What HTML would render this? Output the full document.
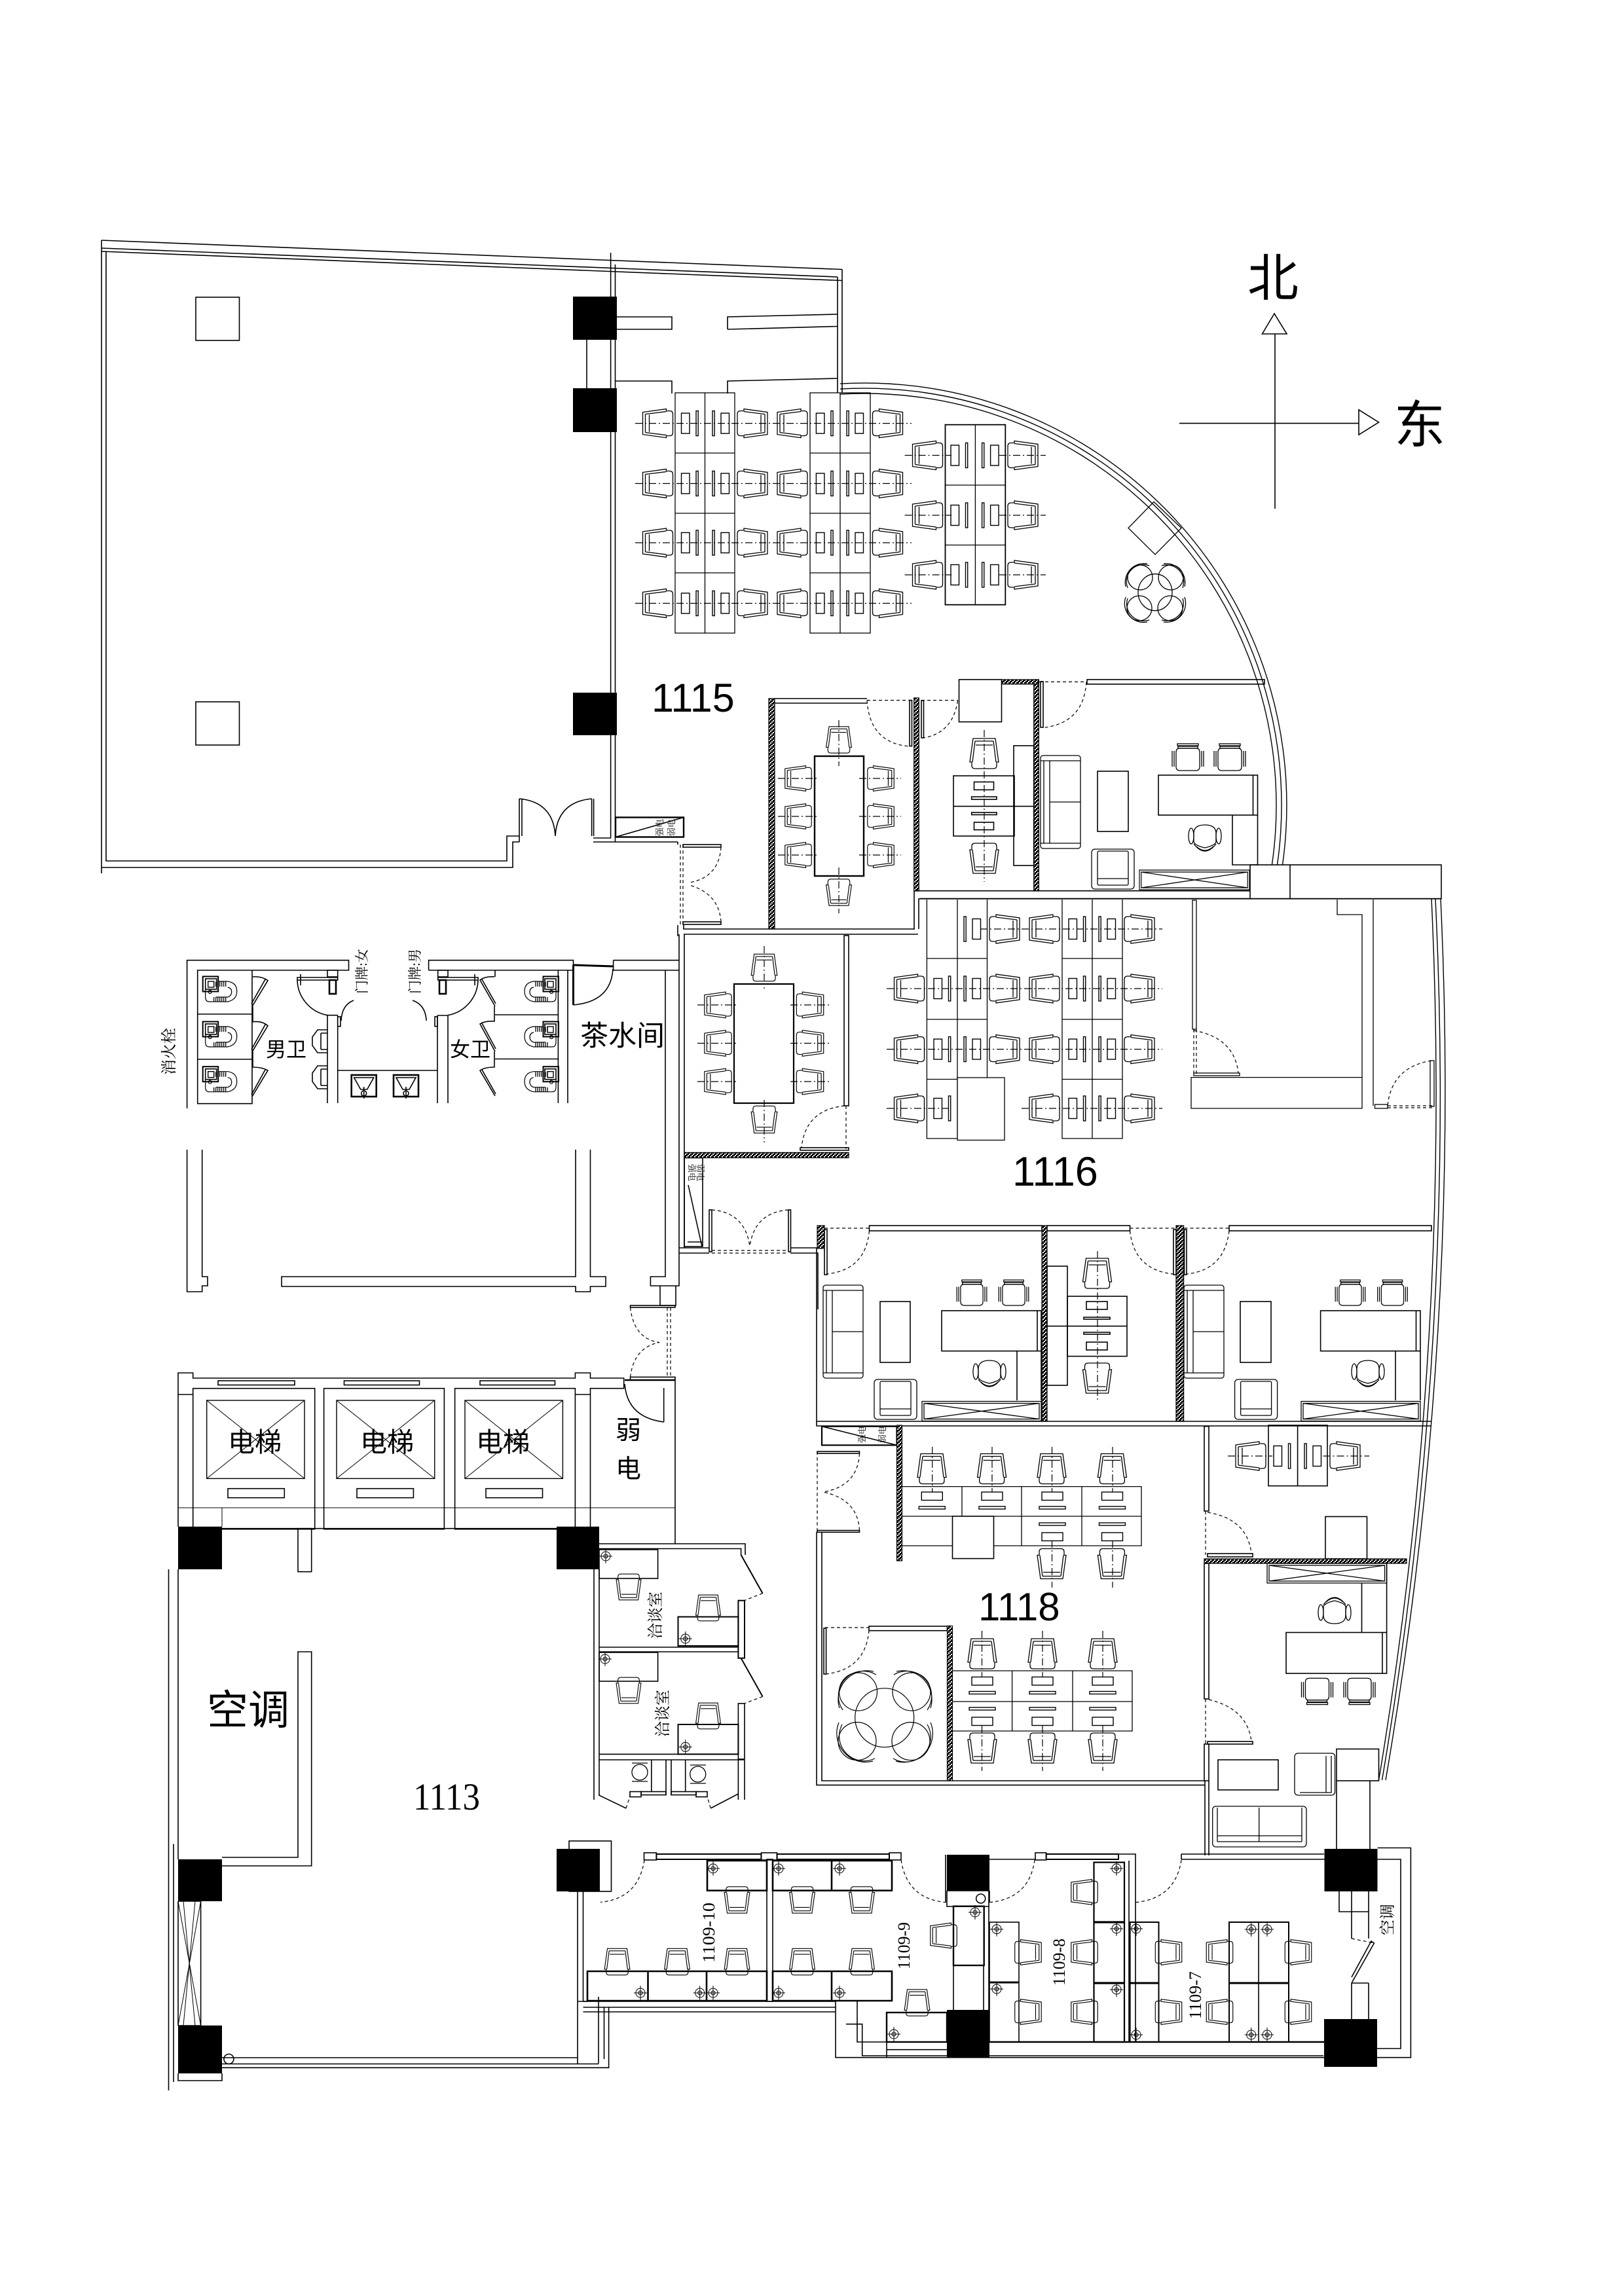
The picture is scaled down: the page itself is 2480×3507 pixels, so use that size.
<!DOCTYPE html>
<html lang="zh"><head><meta charset="utf-8"><title>Floor plan</title>
<style>
html,body{margin:0;padding:0;background:#fff}
svg{display:block}
.l{fill:none;stroke:#000;stroke-width:1.6}
.t{fill:none;stroke:#000;stroke-width:1}
.b{fill:none;stroke:#000;stroke-width:3}
.d{fill:none;stroke:#000;stroke-width:1.2;stroke-dasharray:5 4}
.dd{fill:none;stroke:#000;stroke-width:1.2;stroke-dasharray:11 4 2 4}
.f{fill:#000;stroke:none}
.h{fill:url(#hp);stroke:#000;stroke-width:1.2}
text{fill:#000;stroke:none;font-family:"Liberation Sans","Noto Sans CJK SC",sans-serif}
.s{font-family:"Liberation Serif","Noto Serif CJK SC",serif}
</style></head><body>
<svg xmlns="http://www.w3.org/2000/svg" width="2480" height="3507" viewBox="0 0 2480 3507">
<defs>
<pattern id="hp" width="6" height="6" patternUnits="userSpaceOnUse"><rect width="6" height="6" fill="#000"/><path d="M0 0h2v2H0zM4 2h2v2H4zM2 4h2v2H2z" fill="#fff"/></pattern>
<g id="c" class="l" style="stroke-width:1.3"><path d="M-23-17L13-22V-19H18Q23-19 23-14V14Q23 19 18 19H13V22L-23 17ZM-19-14V14M-13-13V13M-19-14L13-18M-19 14L13 18"/></g>
<g id="m1" class="l" style="stroke-width:1.4"><rect x="0" y="-15.500" width="12.500" height="31"/><rect x="22.500" y="-19" width="3.200" height="38"/></g>
<g id="m2" class="l" style="stroke-width:1.4"><rect x="0" y="-19" width="3.200" height="38"/><rect x="13" y="-15.500" width="12.500" height="31"/></g>
<g id="u1" class="l" style="stroke-width:1.4"><rect x="-16" y="0" width="32" height="12.500"/><rect x="-20" y="22" width="40" height="4"/></g>
<g id="u2" class="l" style="stroke-width:1.4"><rect x="-20" y="0" width="40" height="4"/><rect x="-16" y="15" width="32" height="12.500"/></g>
<g id="x" class="t"><circle r="7"/><circle r="3"/><path d="M-10 0H10M0-11V11"/></g>
<g id="sf" class="l" style="stroke-width:1.3"><rect x="0" y="0" width="61" height="142" rx="4"/><path d="M5 8V134M14 8H61M14 134H61M14 8V134M14 71H61M0 8H61M0 134H61"/></g>
<g id="ar" class="l" style="stroke-width:1.3"><rect x="0" y="0" width="65" height="61" rx="5"/><rect x="9" y="3" width="47" height="52" rx="2"/><path d="M9 45H56"/></g>
<g id="cb" class="l" style="stroke-width:1.3"><rect x="0" y="0" width="182" height="30"/><rect x="3" y="3" width="176" height="24"/><path d="M3 3L179 27M179 3L3 27"/></g>
<g id="ec" class="l" style="stroke-width:1.3"><rect x="-16" y="-21" width="32" height="3"/><rect x="-15" y="-17" width="30" height="3"/><path d="M-13-14H13Q18-14 18-8V14Q18 20 12 20H-12Q-18 20-18 14V-8Q-18-14-13-14ZM-24-10V14M24-10V14M-21-10V14M21-10V14"/></g>
<g id="dc" class="l" style="stroke-width:1.3"><path d="M-17-8Q-17-21 0-21Q17-21 17-8V4Q17 10 0 14Q-17 10-17 4Z"/><ellipse cx="-21" cy="-4" rx="4" ry="12"/><ellipse cx="21" cy="-4" rx="4" ry="12"/><path d="M-17 8Q0 30 17 8M-13 12Q0 24 13 12"/></g>
<g id="tl" class="l" style="stroke-width:1.2"><rect x="-12" y="-11.500" width="23.500" height="23" stroke-width="2"/><rect x="-8" y="-8" width="17" height="16" stroke-width="1.600"/><rect x="-4" y="-4" width="9" height="9" stroke-width="1.400"/><path d="M12-4H26Q40-2 40 11Q40 24 26 27H-2Q-8 27-8 20V6M26 5Q32 6 32 12Q32 18 26 20H8"/><path d="M5-3.500V4M8-3.500V4M11-3.500V4M14-3.500V4M17-3.500V4M20-3.500V4M23-3.500V4M5 20V27M8 20V27M11 20V27M14 20V27M17 20V27M20 20V27M23 20V27" stroke-width="1.300"/><circle cx="-1" cy="12" r="2.500"/></g>
<g id="ur" class="l" style="stroke-width:1.6"><rect x="0" y="0" width="38" height="33" stroke-width="2.600"/><path d="M4 4H34L24 22H14ZM19 18V36"/><circle cx="19" cy="28" r="4"/></g>
</defs>
<rect width="2480" height="3507" fill="#fff"/>

<!-- left block / north -->
<g class="l">
<path d="M155 367L1286 411.500M155 379L1279 423M155 384L1286 428.500"/>
<path d="M155 367V1334M162 384V1315H774V1277H793M155 1325H783V1286H793"/>
<path d="M793 1220V1286M797 1220V1277M903.600 1220V1277M906.600 1220V1277M906 1280H933M906 1286H1035"/>
<path d="M932.600 386V1280M939.500 404V1286M896 519V593"/>
<path d="M1279 423V600M1286 411.500V600"/>
<rect x="299" y="454" width="66.500" height="66"/><rect x="299" y="1072" width="66.500" height="66"/>
<path d="M940 484H1026V503H940M940 582H1026V601M1111 503V484L1279 480M1111 503L1279 498.500M1111 601V582L1279 578"/>
<path d="M793 1220Q845 1225 848 1277M903.600 1220Q851 1225 848 1277"/>
<rect x="940" y="1248.500" width="104" height="30" stroke-width="2.400"/><path d="M940 1278.500L1044 1248.500"/>
</g>
<g class="f"><rect x="875" y="453" width="67" height="66"/><rect x="875" y="593" width="67" height="67"/><rect x="875" y="1058" width="67" height="65"/></g>

<!-- north arc -->
<g class="t" style="stroke-width:1.4"><path d="M1283 586.100A645 645 0 0 1 1958.500 1321M1283 594.100A637 637 0 0 1 1950.500 1321M1283 602.100A629 629 0 0 1 1942.400 1321"/></g>

<!-- compass -->
<g class="l"><path d="M1947 510V777M1801 646.600H2075"/><path d="M1927.500 510H1965L1946 479ZM2075 626V664L2105.500 645Z"/></g>

<!-- 1115 desks -->
<g class="l" style="stroke-width:1.3">
<rect x="1031" y="600" width="91" height="367"/><path d="M1076.500 600V967M1031 692H1122M1031 784H1122M1031 875H1122"/>
<rect x="1237" y="600" width="92" height="367"/><path d="M1283 600V967M1237 692H1329M1237 784H1329M1237 875H1329"/>
<rect x="1443.500" y="648.700" width="91.800" height="275" stroke-width="1.800"/><path d="M1489.400 648.700V923.700M1443.500 741H1535.300M1443.500 832.500H1535.300"/>
</g>
<use href="#m1" x="1040.500" y="646.600"/><use href="#m1" x="1040.500" y="738.500"/><use href="#m1" x="1040.500" y="829"/><use href="#m1" x="1040.500" y="921.500"/>
<use href="#m2" x="1088" y="646.600"/><use href="#m2" x="1088" y="738.500"/><use href="#m2" x="1088" y="829"/><use href="#m2" x="1088" y="921.500"/>
<use href="#m1" x="1246.400" y="646.600"/><use href="#m1" x="1246.400" y="738.500"/><use href="#m1" x="1246.400" y="829"/><use href="#m1" x="1246.400" y="921.500"/>
<use href="#m2" x="1293" y="646.600"/><use href="#m2" x="1293" y="738.500"/><use href="#m2" x="1293" y="829"/><use href="#m2" x="1293" y="921.500"/>
<use href="#m1" x="1452" y="695.500"/><use href="#m1" x="1452" y="787"/><use href="#m1" x="1452" y="878"/>
<use href="#m2" x="1499.600" y="695.500"/><use href="#m2" x="1499.600" y="787"/><use href="#m2" x="1499.600" y="878"/>
<use href="#c" transform="translate(1004.500 646.600)"/><use href="#c" transform="translate(1004.500 738.500)"/><use href="#c" transform="translate(1004.500 829)"/><use href="#c" transform="translate(1004.500 921.500)"/>
<use href="#c" transform="translate(1149 646.600) rotate(180)"/><use href="#c" transform="translate(1149 738.500) rotate(180)"/><use href="#c" transform="translate(1149 829) rotate(180)"/><use href="#c" transform="translate(1149 921.500) rotate(180)"/>
<use href="#c" transform="translate(1210 646.600)"/><use href="#c" transform="translate(1210 738.500)"/><use href="#c" transform="translate(1210 829)"/><use href="#c" transform="translate(1210 921.500)"/>
<use href="#c" transform="translate(1355.500 646.600) rotate(180)"/><use href="#c" transform="translate(1355.500 738.500) rotate(180)"/><use href="#c" transform="translate(1355.500 829) rotate(180)"/><use href="#c" transform="translate(1355.500 921.500) rotate(180)"/>
<use href="#c" transform="translate(1416.500 695.500)"/><use href="#c" transform="translate(1416.500 787)"/><use href="#c" transform="translate(1416.500 878)"/>
<use href="#c" transform="translate(1562 695.500) rotate(180)"/><use href="#c" transform="translate(1562 787) rotate(180)"/><use href="#c" transform="translate(1562 878) rotate(180)"/>
<path class="dd" d="M970 646.600H1392M970 738.500H1392M970 829H1392M970 921.500H1392M1381.600 695.500H1453M1526 695.500H1597M1381.600 787H1453M1526 787H1597M1381.600 878H1453M1526 878H1597"/>

<!-- lounge -->
<g class="t" style="stroke-width:1.3"><path d="M1762 766.500L1804 806.500L1764 847L1723 806.500Z"/>
<ellipse cx="1764" cy="904.700" rx="26" ry="28"/>
<circle cx="1741" cy="882" r="19"/><circle cx="1788" cy="882" r="19"/><circle cx="1740" cy="929" r="19"/><circle cx="1787" cy="929" r="19"/>
<path d="M1755 864A26 26 0 0 0 1722 898M1752 861A29 29 0 0 0 1719 896M1774 864A26 26 0 0 1 1806 898M1777 861A29 29 0 0 1 1809 896M1722 914A26 26 0 0 0 1755 947M1719 912A29 29 0 0 0 1752 950M1806 914A26 26 0 0 1 1774 947M1809 912A29 29 0 0 1 1777 950"/></g>

<!-- meeting room 1 -->
<g class="l">
<rect class="h" x="1174" y="1067" width="9" height="352"/>
<path d="M1183 1067H1319M1183 1074H1319M1035 1286V1290M1035 1413V1430M1044 1413V1419H1396M1044 1427H1402"/>
<rect x="1244" y="1155" width="75" height="183" stroke-width="2.400"/>
<rect x="1043" y="1290" width="58" height="4"/><rect x="1043" y="1408" width="58" height="4"/>
</g>
<path class="d" d="M1039 1290V1413M1043 1290V1413M1101 1294Q1098 1340 1053 1348M1101 1408Q1098 1365 1053 1352"/>
<use href="#c" transform="translate(1219 1189) scale(.88)"/><use href="#c" transform="translate(1219 1247) scale(.88)"/><use href="#c" transform="translate(1219 1306) scale(.88)"/>
<use href="#c" transform="translate(1345 1189) rotate(180) scale(.88)"/><use href="#c" transform="translate(1345 1247) rotate(180) scale(.88)"/><use href="#c" transform="translate(1345 1306) rotate(180) scale(.88)"/>
<use href="#c" transform="translate(1281 1130) rotate(90) scale(.88)"/><use href="#c" transform="translate(1281 1363) rotate(-90) scale(.88)"/>
<path class="dd" d="M1188 1189H1250M1188 1247H1250M1188 1306H1250M1312 1189H1376M1312 1247H1376M1312 1306H1376M1281 1100V1170M1281 1325V1395"/>

<!-- office above 1116 -->
<g class="l">
<rect class="h" x="1395.700" y="1066" width="7.600" height="295"/>
<rect class="h" x="1578.700" y="1038" width="7.700" height="323"/>
<rect class="h" x="1529.600" y="1038" width="56" height="7"/>
<rect x="1464.500" y="1038" width="65" height="64.600"/>
<rect x="1660" y="1038" width="271" height="7"/>
<rect x="1389" y="1069.600" width="3.500" height="70"/><rect x="1407" y="1070" width="3.500" height="57"/><rect x="1589" y="1041" width="4" height="70"/>
<path d="M1319 1067H1324M1319 1074H1324"/>
<rect x="1456" y="1185" width="93" height="92"/><path d="M1456 1231.600H1549"/><rect x="1548" y="1139" width="30.700" height="183"/><path d="M1548 1231.600H1578.700"/>
<rect x="1487.500" y="1194.400" width="30" height="12"/><rect x="1483.700" y="1217" width="38.300" height="4"/><rect x="1483.700" y="1241" width="38.300" height="3.500"/><rect x="1487.500" y="1256" width="30" height="11.500"/>
<rect x="1676" y="1178" width="47" height="92"/>
<rect x="1769" y="1184" width="151.500" height="61"/><path d="M1913.500 1184V1245M1882 1245V1321H1920.500V1245"/>
<path d="M1396 1360.700H1909M1396 1361V1420M1403 1373V1419M1404 1372.600H1909"/>
<rect x="1909" y="1321" width="292" height="51.600"/><path d="M1970 1321V1372.600"/>
</g>
<path class="d" d="M1324 1069.600H1392.500M1407 1069.600H1462.600M1587 1041.500H1660M1324 1069.600Q1328 1135 1389 1140M1462.600 1070Q1455 1120 1410 1127M1659 1041.500Q1655 1105 1592 1111.600"/>
<path class="dd" d="M1503 1115V1347"/>
<use href="#c" transform="translate(1503 1151) rotate(90)"/><use href="#c" transform="translate(1503 1311) rotate(-90)"/>
<use href="#sf" x="1589" y="1154"/><use href="#ar" x="1667" y="1297"/>
<use href="#cb" transform="translate(1740 1329) scale(.923 1)"/>
<use href="#ec" x="1814" y="1157"/><use href="#ec" x="1878" y="1157"/><use href="#dc" x="1840" y="1281"/>

<!-- toilets block -->
<g class="l">
<path d="M285.600 1693V1466.700H532.500V1482H301.700V1685.700H385V1482M301.700 1549H385M301.700 1618H385"/>
<path d="M654.600 1482V1466.700H875.500V1482H654.600M852.400 1482V1685M867 1482V1685M756 1550H852.400M756 1617.500H852.400M756 1482V1492"/>
<path d="M500 1550.700H515.700M500 1550.700V1685M515.700 1550.700V1685M668 1551H684M668 1551V1685M684 1551V1685M515.700 1635H668"/>
<path d="M936.600 1466.700H1037M936.600 1466.700V1482H1037"/>
<path d="M386 1492Q400 1491 409 1497.700L385 1537.300M405 1496L384 1533M386 1537V1560.700Q400 1559 409 1566.700L385 1606.700M405 1565L384 1603M386 1606V1630Q400 1630 409 1635L385 1675M405 1634L384 1672"/>
<path d="M755 1492Q741 1491 733 1497L756 1537M736 1496L757 1533M755 1537V1560Q741 1559 733 1564L756 1606M736 1563L757 1602M755 1606V1630Q741 1630 733 1635L756 1674M736 1634L757 1671"/>
<path d="M454 1497A56 56 0 0 0 500 1550.700M540 1528Q522 1535 521 1559M730 1497A56 56 0 0 1 684 1550.700M630 1528Q650 1535 651 1559"/>
<path d="M500 1482H515.700V1492H500ZM454 1493H515.700V1497H454ZM459 1488V1505M668.700 1482H684V1492H668.700ZM668.700 1493H730V1497H668.700ZM725 1488V1505" stroke-width="1.600"/>
<rect x="503" y="1497" width="10" height="21" stroke-width="2.600"/><rect x="671" y="1497" width="10" height="21" stroke-width="2.600"/>
<rect x="515.700" y="1553" width="4.300" height="14.700"/><rect x="664" y="1553" width="4" height="14.700"/>
<path d="M500 1573H485L477 1584V1597L485 1608H500M490 1578H500M490 1603H500M490 1578V1603M500 1628H485L477 1639V1652L485 1663H500M490 1633H500M490 1658H500M490 1633V1658"/>
<path d="M875.500 1474V1535M875.500 1474L936 1476" stroke-width="3"/>
<path d="M875.500 1535Q933 1530 936 1480"/>
</g>
<use href="#tl" transform="translate(321.700 1503)"/><use href="#tl" transform="translate(321.700 1572)"/><use href="#tl" transform="translate(321.700 1640.700)"/>
<use href="#tl" transform="translate(841 1503) scale(-1 1)"/><use href="#tl" transform="translate(841 1572) scale(-1 1)"/><use href="#tl" transform="translate(841 1640.700) scale(-1 1)"/>
<use href="#ur" x="536.700" y="1642"/><use href="#ur" x="601" y="1642"/>

<!-- central core -->
<g class="l">
<path d="M285.600 1756V1973H308.700V1964H317V1950H308.700V1756"/>
<path d="M879 1756V1950H430V1965H879V1973H901.500V1965H925V1950H901.500V1756"/>
<path d="M1016 1482V1950H993.400V1964H1037V1427M1045 1427V1906H1037M1008 1964V1994H1032V1964M1037 1906H1083M1037 1914H1083"/>
<rect x="1045" y="1768.500" width="28" height="135.500"/><path d="M1051 1810L1072 1904M1050 1897H1072"/>
<rect x="1083" y="1848" width="4" height="64"/><rect x="1204" y="1848" width="3.500" height="64"/>
<path d="M1207 1906H1249M1207 1914H1249V2000"/>
<rect x="962.500" y="1994" width="68.500" height="3"/><rect x="962.500" y="2103.400" width="68.500" height="4.500"/>
</g>
<path class="d" d="M1087 1910H1204M1087 1914H1204M1087 1848Q1138 1852 1145 1904M1204 1848Q1152 1852 1145 1904M1019 1997V2103M1024 1997V2103M962.500 1997Q968 2045 1007 2050.500M962.500 2103.400Q968 2058 1007 2050.500"/>

<!-- meeting room 2 -->
<g class="l">
<rect x="1121" y="1503" width="91" height="182" stroke-width="2.200"/>
<rect x="1289" y="1429" width="7" height="260"/>
<rect x="1222" y="1753" width="74" height="4"/>
<rect class="h" x="1045" y="1760.400" width="251" height="8.100"/>
</g>
<path class="d" d="M1292 1689V1755M1290 1689Q1230 1695 1224 1753"/>
<use href="#c" transform="translate(1096.500 1535) scale(.9)"/><use href="#c" transform="translate(1096.500 1593.500) scale(.9)"/><use href="#c" transform="translate(1096.500 1652) scale(.9)"/>
<use href="#c" transform="translate(1237 1535) rotate(180) scale(.9)"/><use href="#c" transform="translate(1237 1593.500) rotate(180) scale(.9)"/><use href="#c" transform="translate(1237 1652) rotate(180) scale(.9)"/>
<use href="#c" transform="translate(1167 1478) rotate(90) scale(.9)"/><use href="#c" transform="translate(1167 1710) rotate(-90) scale(.9)"/>
<path class="dd" d="M1065 1535H1128M1065 1593.500H1128M1065 1652H1128M1207 1535H1269M1207 1593.500H1269M1207 1652H1269M1167 1445V1510M1167 1680V1745"/>

<!-- 1116 open area -->
<g class="l" style="stroke-width:1.300">
<path d="M1415.400 1374V1739H1507.500V1374M1462 1374V1739M1415.400 1464H1507.500M1415.400 1557H1507.500M1415.400 1648.500H1507.500"/>
<path d="M1622 1374V1739H1714V1374M1668 1374V1739M1622 1464H1714M1622 1557H1714M1622 1648.500H1714"/>
<rect x="1462" y="1646" width="72" height="95.500" fill="#fff"/>
<rect x="1821" y="1375" width="6" height="197"/>
<rect x="1823" y="1639" width="70" height="4"/>
<path d="M1819 1645.600H2080V1693H1819ZM2080 1645V1397H2042V1374M2097 1374V1689"/>
<rect x="2099.500" y="1687" width="19.500" height="6"/><rect x="2184" y="1620" width="6" height="70"/>
<path d="M1402 1373H2201"/>
</g>
<path class="d" d="M1823 1572V1643M1827 1572V1643M1823 1574Q1885 1585 1891 1639M2119 1689H2190M2119 1692H2190M2186 1620Q2125 1630 2119 1689"/>
<use href="#m2" x="1472" y="1419"/><use href="#m2" x="1472" y="1510"/><use href="#m2" x="1472" y="1602.600"/>
<use href="#m1" x="1426" y="1510"/><use href="#m1" x="1426" y="1602.600"/><use href="#m1" x="1426" y="1693"/>
<use href="#m1" x="1632" y="1419"/><use href="#m1" x="1632" y="1510"/><use href="#m1" x="1632" y="1602.600"/><use href="#m1" x="1632" y="1693"/>
<use href="#m2" x="1678" y="1419"/><use href="#m2" x="1678" y="1510"/><use href="#m2" x="1678" y="1602.600"/><use href="#m2" x="1678" y="1693"/>
<use href="#c" transform="translate(1388.500 1510)"/><use href="#c" transform="translate(1388.500 1602.600)"/><use href="#c" transform="translate(1388.500 1693)"/>
<use href="#c" transform="translate(1534 1419) rotate(180)"/><use href="#c" transform="translate(1534 1510) rotate(180)"/><use href="#c" transform="translate(1534 1602.600) rotate(180)"/>
<use href="#c" transform="translate(1595 1419)"/><use href="#c" transform="translate(1595 1510)"/><use href="#c" transform="translate(1595 1602.600)"/><use href="#c" transform="translate(1595 1693)"/>
<use href="#c" transform="translate(1740 1419) rotate(180)"/><use href="#c" transform="translate(1740 1510) rotate(180)"/><use href="#c" transform="translate(1740 1602.600) rotate(180)"/><use href="#c" transform="translate(1740 1693) rotate(180)"/>
<path class="dd" d="M1497 1419H1775M1354 1510H1775M1354 1602.600H1775M1354 1693H1448M1560 1693H1775"/>

<!-- east wall -->
<g class="t" style="stroke-width:1.400"><path d="M2200 1373Q2232 2046 2116 2719M2192 1373Q2225 2046 2110.500 2719M2186 1373Q2218 2046 2105.500 2719"/></g>

<!-- three offices -->
<g class="l">
<rect class="h" x="1248" y="1872" width="11" height="35"/>
<rect x="1327.500" y="1872" width="263.500" height="8"/><rect x="1599" y="1872" width="126.500" height="8"/><rect x="1877" y="1872" width="309" height="8"/>
<rect class="h" x="1591" y="1872" width="8" height="299"/><rect class="h" x="1796" y="1872" width="11.600" height="299"/>
<rect x="1259" y="1878" width="4" height="69"/><rect x="1792" y="1878" width="4" height="69"/><rect x="1808.500" y="1878" width="3.500" height="69"/>
<path d="M1247 1907V2178H2186M1247 2171H2186"/>
<rect x="1344" y="1988" width="46" height="93"/>
<rect x="1438" y="2002" width="152" height="61.600"/><path d="M1584 2002V2063.600M1553 2063.600V2139M1590 2063.600V2139"/>
<rect x="1630" y="1980" width="91" height="91.600"/><path d="M1630 2025.600H1721"/><rect x="1599" y="1934" width="31" height="182"/><path d="M1599 2025.600H1630"/>
<rect x="1659" y="1988" width="32" height="12"/><rect x="1655" y="2012" width="40" height="3"/><rect x="1655" y="2035" width="40" height="3"/><rect x="1659" y="2050" width="32" height="12"/>
<rect x="1894" y="1988" width="47" height="93"/>
<rect x="2016.600" y="2002" width="152.400" height="61.600"/><path d="M2162.500 2002V2063.600M2131 2063.600V2139M2169 2063.600V2139"/>
</g>
<path class="d" d="M1259 1876H1327.500M1725.500 1876H1796M1808.500 1876H1877M1327.500 1880Q1322 1940 1262 1946M1725.500 1880Q1732 1940 1792 1946M1877 1880Q1870 1940 1812 1946"/>
<path class="dd" d="M1676 1911V2139"/>
<use href="#sf" x="1257" y="1963"/><use href="#sf" x="1808" y="1963"/><use href="#ar" x="1335" y="2107"/><use href="#ar" x="1885.600" y="2107"/>
<use href="#cb" x="1408" y="2140.500"/><use href="#cb" x="1987" y="2140.500"/>
<use href="#ec" transform="translate(1484 1975) scale(.95)"/><use href="#ec" transform="translate(1548 1975) scale(.95)"/><use href="#ec" transform="translate(2062 1975) scale(.95)"/><use href="#ec" transform="translate(2126.500 1975) scale(.95)"/>
<use href="#dc" x="1511" y="2099"/><use href="#dc" x="2089" y="2099"/>
<use href="#c" transform="translate(1675.500 1945) rotate(90)"/><use href="#c" transform="translate(1675.500 2105) rotate(-90)"/>

<!-- 1118 -->
<g class="l">
<rect x="1255" y="2178.700" width="114.500" height="28.700" stroke-width="2.200"/><path d="M1255 2178.700L1369.500 2207.400"/>
<rect class="h" x="1369.500" y="2177" width="8" height="207"/>
<rect x="1248" y="2217" width="64.500" height="3"/><rect x="1248" y="2337.600" width="64.500" height="2.800"/>
<path d="M1247 2340V2726.600H1840M1255 2340V2720H1840M1840 2720V2834M1846 2720V2834"/>
<path d="M1377.500 2270.600H1743V2361H1377.500M1377.500 2316H1743M1469 2270.600V2316M1560 2270.600V2361M1652 2270.600V2361" style="stroke-width:1.300"/>
<rect x="1454.500" y="2316" width="63" height="64.600" fill="#fff"/>
<rect x="1327" y="2484" width="119.500" height="6.700"/>
<rect class="h" x="1446.500" y="2483.500" width="8" height="236.500"/>
<rect x="1258" y="2487" width="3.600" height="70"/>
<path d="M1454.500 2552H1729V2644H1454.500M1454.500 2599H1729M1545.600 2552V2644M1638 2552V2644" style="stroke-width:1.300"/>
<g class="t" style="stroke-width:1.200">
<circle cx="1350.700" cy="2623.700" r="45"/><circle cx="1310.500" cy="2584" r="29"/><circle cx="1392" cy="2584" r="29"/><circle cx="1309" cy="2659.600" r="29"/><circle cx="1391" cy="2659.600" r="29"/>
<path d="M1338 2558A38 38 0 0 0 1287 2612M1334 2553A44 44 0 0 0 1282 2609M1365 2558A38 38 0 0 1 1416 2612M1369 2553A44 44 0 0 1 1421 2609M1286 2634A38 38 0 0 0 1336 2686M1281 2631A44 44 0 0 0 1333 2690M1416 2634A38 38 0 0 1 1364 2686M1421 2631A44 44 0 0 1 1368 2690"/></g>
</g>
<path class="d" d="M1248 2217V2340M1312.500 2220Q1310 2270 1257 2279M1312.500 2337.600Q1310 2290 1257 2279M1260 2486H1327M1327 2490Q1322 2550 1261 2557"/>
<use href="#u1" x="1423.300" y="2279"/><use href="#u1" x="1515" y="2279"/><use href="#u1" x="1607" y="2279"/><use href="#u1" x="1698.500" y="2279"/>
<use href="#u2" x="1607" y="2326"/><use href="#u2" x="1698.500" y="2326"/>
<use href="#u1" x="1500" y="2561.500"/><use href="#u1" x="1592" y="2561.500"/><use href="#u1" x="1684" y="2561.500"/>
<use href="#u2" x="1500" y="2608"/><use href="#u2" x="1592" y="2608"/><use href="#u2" x="1684" y="2608"/>
<use href="#c" transform="translate(1423 2243.500) rotate(90)"/><use href="#c" transform="translate(1514.600 2243.500) rotate(90)"/><use href="#c" transform="translate(1606 2243.500) rotate(90)"/><use href="#c" transform="translate(1698.400 2243.500) rotate(90)"/>
<use href="#c" transform="translate(1606 2388.500) rotate(-90)"/><use href="#c" transform="translate(1698.400 2388.500) rotate(-90)"/>
<use href="#c" transform="translate(1500 2526) rotate(90)"/><use href="#c" transform="translate(1592 2526) rotate(90)"/><use href="#c" transform="translate(1684 2526) rotate(90)"/>
<use href="#c" transform="translate(1500 2670) rotate(-90)"/><use href="#c" transform="translate(1592 2670) rotate(-90)"/><use href="#c" transform="translate(1684 2670) rotate(-90)"/>
<path class="dd" d="M1423.700 2210V2279M1515 2210V2279M1606.500 2210V2279M1699 2210V2279M1606.500 2353V2425M1699 2353V2425M1499.500 2491V2561.500M1592 2491V2561.500M1684 2491V2561.500M1499.500 2635.600V2705M1592 2635.600V2705M1684 2635.600V2705"/>

<!-- east office group -->
<g class="l">
<rect x="1839" y="2178.700" width="7" height="129.300"/>
<rect x="1844" y="2373" width="69" height="5"/>
<rect x="1937" y="2177" width="90" height="92.600"/><path d="M1981.600 2177V2269.600"/>
<rect x="2024" y="2316.500" width="63.500" height="64.500"/>
<rect class="h" x="1839" y="2381" width="309" height="7"/>
<rect x="1839" y="2388" width="7" height="207"/>
<rect x="1844" y="2660" width="69" height="4"/>
<rect x="1839" y="2664" width="7" height="56"/>
<rect x="1964" y="2493.500" width="153.600" height="62.500"/><path d="M2111 2493.500V2556M2117.600 2388V2493.500M2079.500 2418V2493.500"/>
<rect x="2041" y="2671.500" width="64.500" height="48.500"/>
<path d="M2041 2720V2824M2092 2720V2824"/>
<rect x="1860" y="2688" width="92" height="46"/>
<g style="stroke-width:1.300"><rect x="1977" y="2678" width="61.600" height="64" rx="5"/><path d="M2033 2682V2738H1985M2025 2682V2738"/>
<rect x="1851.700" y="2759" width="143.300" height="62" rx="5"/><path d="M1922.700 2761V2813M1859 2804H1988M1859 2813H1988M1859 2761V2813M1988 2761V2813"/></g>
</g>
<path class="d" d="M1841 2308V2375M1844 2310Q1905 2320 1911 2373M1841 2595V2664M1846 2596Q1905 2610 1911 2660"/>
<use href="#m1" x="1945" y="2224"/><use href="#m2" x="1992" y="2224"/>
<use href="#c" transform="translate(1910 2224)"/><use href="#c" transform="translate(2054 2224) rotate(180)"/>
<path class="dd" d="M1875 2224H1943M2020.500 2224H2091"/>
<use href="#cb" transform="translate(1935 2388) scale(1.003 1)"/>
<use href="#dc" transform="translate(2038 2459) rotate(180)"/>
<use href="#ec" transform="translate(2011.500 2583) rotate(180) scale(1 .98)"/><use href="#ec" transform="translate(2076 2583) rotate(180) scale(1 .98)"/>

<!-- elevators -->
<g class="l">
<path d="M272 2332V2097H294.700V2105H878.400V2097H901.500V2105H952.700V2120.700H901.500V2332M272 2130H294.700M878.400 2130H901.500"/>
<rect x="294.700" y="2120.700" width="186" height="215"/><rect x="494.600" y="2120.700" width="183.800" height="215"/><rect x="694.600" y="2120.700" width="183.800" height="215"/>
<rect x="333" y="2109" width="117" height="6.500"/><rect x="525.500" y="2109" width="115" height="6.500"/><rect x="733" y="2109" width="114.500" height="6.500"/>
<rect x="348" y="2273.700" width="86.300" height="14"/><rect x="545" y="2273.700" width="86.400" height="14"/><rect x="742" y="2273.700" width="86.500" height="14"/>
</g>
<g class="t">
<rect x="315.700" y="2139" width="149.300" height="119.400" stroke-width="1.400"/><path d="M315.700 2139L465 2258.400M465 2139L315.700 2258.400"/>
<rect x="514" y="2139" width="149.700" height="119.400" stroke-width="1.400"/><path d="M514 2139L663.700 2258.400M663.700 2139L514 2258.400"/>
<rect x="710" y="2139" width="149.400" height="119.400" stroke-width="1.400"/><path d="M710 2139L859.400 2258.400M859.400 2139L710 2258.400"/>
<path d="M272 2303H1031M339 2303V2332"/>
</g>
<g class="l"><path d="M1031 2108V2358M1013.700 2120V2172" /><path d="M954 2114Q958 2165 1013.700 2172"/><path d="M954 2108H1031" stroke-width="2.400"/></g>

<!-- 1113 area -->
<g class="l">
<path d="M339 2334.700H850M257.500 2397V3193M272 2397V2840M265 2816.500V3180"/>
<rect x="455" y="2334.700" width="20.700" height="66"/>
<path d="M339 2837H455V2523H475.700V2850H339"/>
<path d="M272 2904V3094M306.600 2904V3094M272 2904H306.600M272 3094H306.600"/>
<path d="M339 3143H882M339 3152.500H914M339 3158.300H929.600V3066M922.500 3066V3145"/>
<path d="M272 3167V3178H339V3167"/>
<circle cx="349.400" cy="3145" r="7.500"/>
</g>
<path class="t" d="M272 2904L306.600 3094M306.600 2904L272 3094M280 2904L298 3094M298 2904L280 3094"/>
<g class="f"><rect x="272" y="2331.800" width="67" height="65.200"/><rect x="850" y="2331.800" width="65" height="65.200"/><rect x="272" y="2840" width="67" height="64"/><rect x="272" y="3093.800" width="67" height="73.200"/></g>

<!-- discussion rooms -->
<g class="l">
<path d="M915 2358H1138V2375M915 2365.500H1131.600V2375M907 2397V2749M915 2397V2742"/>
<path d="M1131.600 2375L1164.600 2433.700" stroke-width="2"/><path d="M1131.600 2532.700L1164.600 2591.400" stroke-width="2"/>
<rect x="915" y="2367" width="89.600" height="44"/><rect x="1035.500" y="2469.600" width="91.900" height="44.400" stroke-width="2"/>
<rect x="915" y="2524" width="89.600" height="44"/><rect x="1035.500" y="2634" width="91.900" height="45.400" stroke-width="2"/>
<path d="M915 2516H1127.400M915 2523H1127.400M915 2679.400H1127.400M915 2688H1137"/>
<rect x="1127.400" y="2444.700" width="9.600" height="88" stroke-width="2"/><rect x="1127.400" y="2602" width="9.600" height="85"/>
<path d="M1127.400 2688V2749M1137 2688V2749M994.800 2688V2737M1017 2688V2742M1025 2688V2742M1046.700 2688V2737"/>
<rect x="962" y="2736.600" width="17" height="8"/><rect x="979" y="2736.600" width="38" height="5"/><rect x="1025" y="2736.600" width="38" height="5"/><rect x="1063" y="2736.600" width="17" height="8"/>
<path d="M914 2741.700L956 2762M1127.400 2740L1085.300 2762"/>
</g>
<path class="d" d="M1164.600 2433.700L1136.600 2444.700M1164.600 2591.400L1136.600 2602M956 2762L962 2744M1085.300 2762L1080 2744"/>
<use href="#x" x="925" y="2377"/><use href="#x" x="1046.700" y="2503"/><use href="#x" x="924" y="2534"/><use href="#x" x="1046.700" y="2668.400"/>
<use href="#c" transform="translate(960 2424) rotate(-90) scale(.86)"/><use href="#c" transform="translate(1081.500 2456) rotate(90) scale(.86)"/>
<use href="#c" transform="translate(960 2582) rotate(-90) scale(.86)"/><use href="#c" transform="translate(1081.500 2621) rotate(90) scale(.86)"/>
<g class="t" style="stroke-width:1.300"><circle cx="977" cy="2707" r="12"/><circle cx="1065.700" cy="2710" r="12"/><path d="M965 2693H989M965 2721H989M1054 2696H1078M1054 2724H1078"/></g>

<!-- bottom rooms -->
<g class="l">
<rect x="869" y="2812" width="64.500" height="77"/>
<rect x="983.500" y="2830" width="18.900" height="11"/><rect x="1002.400" y="2832" width="160" height="8" stroke-width="2"/><rect x="1162.500" y="2830" width="24" height="11"/><rect x="1186.600" y="2832" width="171.400" height="8" stroke-width="2"/><rect x="1358" y="2830" width="18" height="11"/>
<rect x="1171" y="2840" width="9" height="217"/>
<path d="M882 2889V3057M890.500 2889V3057H1276"/>
<g stroke-width="2.600">
<rect x="1080" y="2842" width="91" height="45.700"/><rect x="1180" y="2842" width="182" height="45.700"/><path d="M1270 2842V2887.700"/>
<path d="M897 3011H1171V3056H897ZM989.500 3011V3056M1079 3011V3056M1180 3011H1362V3056H1180ZM1270 3011V3056"/>
</g>
<path d="M882 3057H897M890.500 3066H1276M890.500 3073H1276M882 3057V3152M914 3050V3152"/>
<path d="M1276 3057V3142.700H2154.400V2822.500H2103.500M1309 3056V3119H1446M1292 3091.700H1316.700V3140H2021"/>
<rect x="1354" y="3074" width="92" height="45" stroke-width="2.400"/><path d="M1354 3130.700H1446M1354 3119V3142"/>
<path d="M1444 2833V2906M1511 2888V2906M1446 2888H1510V2912H1446V2888M1510 2912V3070"/><circle cx="1497.700" cy="2900" r="7"/>
<rect x="1456" y="2911.700" width="46.700" height="90.300" stroke-width="2.400"/><path d="M1456 3002V3070M1502 3002V3070"/>
<rect x="1581" y="2830" width="16.700" height="11"/><rect x="1597.700" y="2832" width="110.300" height="8" stroke-width="2"/>
<path d="M1511 2840H1581M1708 2832H1734V2840M1724 2842V3119M1734 2842V3119M1734 2840V2906M1804 2832H2022M1804 2840H2139V3129H2103M1804 2832V2840"/>
<path d="M1511 3119H2022" stroke-width="2.400"/>
<rect x="1670.500" y="2844.600" width="46.500" height="274.400" stroke-width="2.200"/><path d="M1670.500 2936H1717M1670.500 3029H1717" stroke-width="3.200"/>
<rect x="1511" y="2936" width="45" height="183"/><path d="M1511 3028H1556" stroke-width="3"/>
<rect x="1725.600" y="2936" width="43.900" height="183" stroke-width="2"/><path d="M1725.600 3029H1769.500" stroke-width="3"/>
<rect x="1877" y="2936" width="91" height="183" stroke-width="2"/><path d="M1922 2936V3119"/><path d="M1877 3029H1968" stroke-width="3"/>
<path d="M2045 2889V2920H2090M2064 2889V2961M2090 2889V2961M2064 3029V3084M2090 3029V3084M2064 3029H2090"/>
<path d="M2064 3029L2098.400 2968L2094 2965L2064 3020"/>
</g>
<path class="d" d="M984 2841Q975 2900 917 2905.500M1376 2841Q1385 2900 1444 2905.700M1511 2905.700Q1572 2900 1580 2841M1804 2841Q1795 2900 1734 2905.700M2064 2961L2098.400 2968"/>
<g class="f"><rect x="850" y="2824" width="66" height="65"/><rect x="1446" y="2833" width="65" height="55"/><rect x="1446" y="3070" width="65" height="72.700"/><rect x="2022.500" y="2824" width="81" height="65"/><rect x="2022" y="3084" width="81" height="73"/></g>
<use href="#x" x="1089" y="2854"/><use href="#x" x="1189" y="2854"/><use href="#x" x="1282" y="2854"/>
<use href="#x" x="978" y="3044"/><use href="#x" x="1068.700" y="3044"/><use href="#x" x="1089" y="3044"/><use href="#x" x="1189" y="3044"/><use href="#x" x="1282" y="3044"/>
<use href="#x" x="1365" y="3107"/><use href="#x" x="1489" y="2921"/>
<use href="#x" x="1705" y="2854"/><use href="#x" x="1705" y="2946"/><use href="#x" x="1705" y="3039"/>
<use href="#x" x="1522" y="2946.700"/><use href="#x" x="1522" y="3038"/><use href="#x" x="1735" y="2946"/><use href="#x" x="1735" y="3108"/>
<use href="#x" x="1910.700" y="2947"/><use href="#x" x="1935" y="2947"/><use href="#x" x="1910.700" y="3108"/><use href="#x" x="1935" y="3108"/>
<g>
<use href="#c" transform="translate(1125.500 2902) rotate(-90) scale(.88)"/><use href="#c" transform="translate(1225 2902) rotate(-90) scale(.88)"/><use href="#c" transform="translate(1316 2902) rotate(-90) scale(.88)"/>
<use href="#c" transform="translate(942.500 2996.500) rotate(90) scale(.88)"/><use href="#c" transform="translate(1034 2996.500) rotate(90) scale(.88)"/><use href="#c" transform="translate(1125.500 2996.500) rotate(90) scale(.88)"/><use href="#c" transform="translate(1225 2996.500) rotate(90) scale(.88)"/><use href="#c" transform="translate(1316 2996.500) rotate(90) scale(.88)"/>
<use href="#c" transform="translate(1400.500 3059) rotate(90) scale(.88)"/>
<use href="#c" transform="translate(1441 2956.500) scale(.88)"/>
<use href="#c" transform="translate(1570 2982) rotate(180) scale(.88)"/><use href="#c" transform="translate(1570 3073) rotate(180) scale(.88)"/>
<use href="#c" transform="translate(1656 2890) scale(.88)"/><use href="#c" transform="translate(1656 2982) scale(.88)"/><use href="#c" transform="translate(1656 3073) scale(.88)"/>
<use href="#c" transform="translate(1784.500 2982) rotate(180) scale(.88)"/><use href="#c" transform="translate(1784.500 3073) rotate(180) scale(.88)"/>
<use href="#c" transform="translate(1862.500 2982) scale(.88)"/><use href="#c" transform="translate(1862.500 3073) scale(.88)"/>
<use href="#c" transform="translate(1982.500 2982) rotate(180) scale(.88)"/><use href="#c" transform="translate(1982.500 3073) rotate(180) scale(.88)"/>
</g>

<!-- labels -->
<text x="1905" y="452" font-size="78">北</text>
<text x="2129" y="676" font-size="78">东</text>
<text x="995" y="1087" font-size="61">1115</text>
<text x="1546" y="1811" font-size="63">1116</text>
<text x="1494" y="2475" font-size="60">1118</text>
<text class="s" x="631" y="2764" font-size="58" textLength="102" lengthAdjust="spacingAndGlyphs">1113</text>
<text x="406" y="1614" font-size="31">男卫</text>
<text x="687" y="1614" font-size="31">女卫</text>
<text x="886" y="1597" font-size="43">茶水间</text>
<text x="348" y="2217" font-size="41">电梯</text>
<text x="550" y="2217" font-size="41">电梯</text>
<text x="727" y="2217" font-size="41">电梯</text>
<text x="940" y="2198" font-size="39">弱</text>
<text x="940" y="2257" font-size="39">电</text>
<text x="316" y="2634" font-size="63">空调</text>
<text class="s" transform="translate(266 1642) rotate(-90)" font-size="24">消火栓</text>
<text class="s" transform="translate(560 1518) rotate(-90)" font-size="21">门牌:女</text>
<text class="s" transform="translate(641 1518) rotate(-90)" font-size="21">门牌:男</text>
<text class="s" transform="translate(1009 2503) rotate(-90)" font-size="24">洽谈室</text>
<text class="s" transform="translate(1020 2653) rotate(-90)" font-size="24">洽谈室</text>
<text class="s" transform="translate(1091 2998) rotate(-90)" font-size="26" textLength="92" lengthAdjust="spacingAndGlyphs">1109-10</text>
<text class="s" transform="translate(1389 3008) rotate(-90)" font-size="26" textLength="72" lengthAdjust="spacingAndGlyphs">1109-9</text>
<text class="s" transform="translate(1626 3033) rotate(-90)" font-size="26" textLength="72" lengthAdjust="spacingAndGlyphs">1109-8</text>
<text class="s" transform="translate(1834 3084) rotate(-90)" font-size="26" textLength="73" lengthAdjust="spacingAndGlyphs">1109-7</text>
<text class="s" transform="translate(2127 2956) rotate(-90)" font-size="24">空调</text>
<text class="s" transform="translate(1012 1277) rotate(-90)" font-size="13">强电</text>
<text class="s" transform="translate(1030 1277) rotate(-90)" font-size="13">弱电</text>
<text class="s" transform="translate(1052 1778) rotate(90)" font-size="13">强电</text>
<text class="s" transform="translate(1065 1778) rotate(90)" font-size="13">弱电</text>
<text class="s" transform="translate(1321 2204) rotate(-90)" font-size="13">强电</text>
<text class="s" transform="translate(1352 2204) rotate(-90)" font-size="13">弱电</text>
</svg>
</body></html>
